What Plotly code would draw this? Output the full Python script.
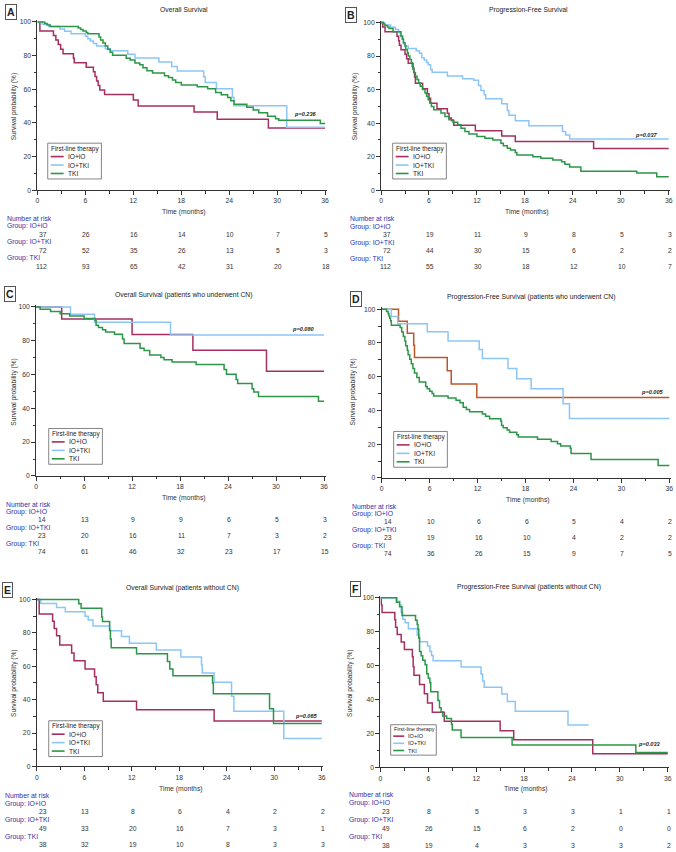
import plotly.graph_objects as go

W, H = 676, 852

tempos = [0, 6, 12, 18, 24, 30, 36]

# A - Overall Survival
a_ioio_t = [0, 0.3, 2.0, 2.3, 2.6, 2.9, 3.2, 4.5, 4.6, 6.1, 7.0, 7.2, 7.4, 7.6, 7.8, 8.4, 12.0, 12.6, 19.6, 22.5, 28.9, 36]
a_ioio_s = [100, 94.6, 91.9, 89.2, 86.5, 83.8, 81.1, 78.4, 75.7, 73.0, 70.3, 67.6, 64.9, 62.2, 59.5, 56.8, 53.6, 50.0, 46.4, 42.2, 37.0, 37.0]
a_iotki_t = [0, 0.6, 1.4, 2.8, 3.4, 4.2, 6.0, 6.3, 6.6, 7.0, 7.4, 8.5, 9.1, 11.3, 12.2, 15.2, 16.8, 17.5, 20.8, 21.0, 22.4, 24.4, 24.6, 31.2, 36]
a_iotki_s = [100, 98.6, 97.2, 95.8, 94.4, 93.0, 91.5, 90.0, 88.6, 87.1, 85.6, 84.1, 82.8, 80.8, 78.5, 76.2, 73.5, 70.8, 67.4, 64.0, 60.2, 55.1, 50.2, 37.4, 37.4]
a_tki_t = [0, 0.9, 1.2, 1.6, 5.1, 5.4, 5.7, 6.1, 6.3, 7.7, 7.9, 8.2, 8.5, 8.8, 9.1, 9.4, 11.1, 11.6, 12.2, 12.8, 13.2, 13.7, 14.4, 15.9, 16.4, 16.9, 17.3, 18.0, 20.0, 21.3, 22.3, 23.0, 23.8, 24.2, 24.6, 26.2, 27.0, 27.7, 28.8, 29.8, 30.2, 35.4, 36]
a_tki_s = [100, 99.1, 98.2, 97.3, 96.4, 95.5, 94.6, 93.7, 92.9, 91.0, 89.2, 87.4, 85.6, 83.8, 82.0, 80.2, 78.4, 77.4, 75.6, 74.6, 72.8, 71.0, 69.6, 68.0, 66.9, 65.5, 64.0, 62.5, 61.5, 60.2, 58.0, 56.7, 55.0, 53.2, 51.0, 49.3, 47.7, 46.0, 44.0, 42.5, 41.5, 39.6, 39.6]
a_ioio_n = [37, 26, 16, 14, 10, 7, 5]
a_iotki_n = [72, 52, 35, 26, 13, 5, 3]
a_tki_n = [112, 93, 65, 42, 31, 20, 18]

# B - Progression-Free Survival
b_ioio_t = [0, 0.2, 0.5, 2.0, 2.2, 2.3, 2.5, 3.0, 3.2, 3.4, 4.0, 4.1, 4.2, 4.3, 5.2, 5.8, 6.0, 6.2, 7.0, 8.3, 8.5, 8.8, 9.1, 11.8, 15.1, 16.8, 26.6, 36]
b_ioio_s = [100, 97.3, 94.6, 91.9, 89.2, 86.5, 83.8, 81.1, 78.4, 75.7, 73.0, 70.3, 67.6, 63.8, 60.5, 57.6, 54.8, 51.9, 48.6, 45.9, 43.0, 41.6, 38.7, 35.5, 32.3, 29.0, 24.9, 24.9]
b_iotki_t = [0, 0.4, 1.2, 1.8, 2.2, 2.4, 2.6, 2.8, 3.0, 3.4, 4.4, 4.8, 5.1, 5.4, 5.7, 5.9, 6.2, 6.4, 8.3, 10.2, 11.6, 12.2, 12.5, 12.9, 13.1, 15.1, 15.8, 16.0, 16.8, 18.5, 22.7, 23.1, 23.6, 36]
b_iotki_s = [100, 98.6, 97.2, 95.8, 94.4, 91.6, 90.2, 87.4, 86.0, 84.6, 83.2, 81.7, 79.0, 77.6, 76.2, 74.8, 72.0, 70.4, 68.2, 66.5, 65.6, 62.5, 59.5, 57.0, 54.5, 51.5, 47.5, 44.7, 41.5, 38.5, 35.0, 33.0, 30.5, 30.5]
b_tki_t = [0, 0.3, 0.5, 0.8, 1.0, 1.5, 2.5, 2.7, 2.8, 3.0, 3.1, 3.3, 3.4, 3.6, 3.8, 3.9, 4.0, 4.1, 4.3, 4.5, 4.7, 4.9, 5.2, 5.5, 5.7, 5.9, 6.1, 6.3, 6.6, 7.5, 8.0, 8.5, 9.0, 9.6, 10.0, 10.5, 11.0, 12.0, 13.0, 14.0, 15.0, 15.3, 15.8, 16.2, 16.8, 17.0, 19.0, 20.0, 21.5, 22.6, 23.0, 23.6, 25.0, 32.0, 34.5, 36]
b_tki_s = [100, 99.1, 98.2, 97.3, 96.4, 94.6, 92.0, 90.0, 88.0, 86.0, 84.0, 82.0, 80.0, 78.0, 76.0, 74.0, 72.0, 70.0, 68.0, 66.0, 64.0, 62.0, 60.0, 58.0, 56.0, 54.0, 52.0, 50.0, 48.0, 46.0, 44.0, 42.0, 40.5, 39.0, 37.0, 35.0, 33.5, 32.0, 31.0, 30.0, 28.0, 26.5, 25.0, 24.0, 22.5, 21.0, 20.0, 19.0, 18.0, 17.0, 15.5, 13.8, 11.3, 10.2, 8.0, 8.0]
b_ioio_n = [37, 19, 11, 9, 8, 5, 3]
b_iotki_n = [72, 44, 30, 15, 6, 2, 2]
b_tki_n = [112, 55, 30, 18, 12, 10, 7]

# C - Overall Survival (CN)
c_ioio_t = [0, 3.2, 12.0, 19.6, 28.8, 36]
c_ioio_s = [100, 92.9, 83.6, 74.3, 61.9, 61.9]
c_iotki_t = [0, 4.3, 7.3, 16.8, 36]
c_iotki_s = [100, 95.7, 90.9, 83.3, 83.3]
c_tki_t = [0, 0.5, 1.8, 3.0, 4.2, 6.0, 7.4, 7.5, 7.8, 8.3, 8.7, 9.8, 10.8, 11.0, 13.0, 13.5, 14.2, 15.6, 16.0, 17.0, 20.0, 23.5, 23.8, 25.0, 25.2, 27.0, 27.2, 27.8, 35.3, 36]
c_tki_s = [100, 98.6, 97.3, 96.0, 94.6, 93.2, 91.9, 89.2, 87.8, 86.5, 85.1, 83.8, 81.0, 78.3, 75.6, 74.2, 71.5, 70.1, 68.7, 67.4, 65.9, 63.0, 60.2, 57.0, 54.7, 51.5, 49.6, 47.0, 44.2, 44.2]
c_ioio_n = [14, 13, 9, 9, 6, 5, 3]
c_iotki_n = [23, 20, 16, 11, 7, 3, 2]
c_tki_n = [74, 61, 46, 32, 23, 17, 15]

# D - Progression-Free Survival (CN)
d_ioio_t = [0, 2.1, 3.2, 4.0, 4.1, 8.2, 8.7, 11.9, 36]
d_ioio_s = [100, 92.9, 85.7, 78.6, 71.4, 63.5, 55.6, 47.6, 47.6]
d_iotki_t = [0, 1.2, 2.0, 5.7, 8.3, 12.2, 12.6, 15.8, 16.9, 18.7, 22.7, 23.5, 36]
d_iotki_s = [100, 95.7, 91.3, 86.6, 81.2, 76.1, 70.8, 64.8, 58.8, 52.8, 44.0, 35.2, 35.2]
d_tki_t = [0, 0.6, 0.8, 0.9, 1.0, 1.1, 1.2, 2.3, 2.5, 2.7, 2.9, 3.0, 3.2, 3.3, 3.5, 3.7, 3.9, 4.1, 4.4, 4.7, 5.5, 5.7, 6.0, 6.3, 6.5, 8.3, 9.3, 9.8, 10.2, 10.6, 11.0, 12.6, 13.0, 13.5, 14.9, 15.0, 15.2, 15.7, 16.0, 16.9, 17.1, 19.5, 21.2, 22.0, 22.4, 23.6, 23.7, 26.2, 34.6, 36]
d_tki_s = [100, 98.6, 97.3, 95.9, 94.6, 93.2, 90.5, 89.2, 86.5, 83.8, 81.1, 78.4, 75.7, 73.0, 70.3, 67.6, 64.9, 62.2, 59.5, 56.8, 54.1, 52.8, 51.4, 50.0, 48.6, 47.3, 46.0, 44.6, 41.9, 40.5, 39.2, 37.8, 36.5, 35.1, 33.7, 31.0, 29.7, 28.4, 27.0, 25.6, 24.2, 22.9, 21.5, 20.2, 18.9, 17.5, 14.4, 10.9, 7.3, 7.3]
d_ioio_n = [14, 10, 6, 6, 5, 4, 2]
d_iotki_n = [23, 19, 16, 10, 4, 2, 2]
d_tki_n = [74, 36, 26, 15, 9, 7, 5]

# E - Overall Survival (sem CN)
e_ioio_t = [0, 0.3, 2.0, 2.2, 2.5, 2.9, 4.4, 4.7, 6.1, 7.3, 7.5, 7.7, 8.4, 12.6, 22.4, 36]
e_ioio_s = [100, 91.3, 87.0, 82.6, 78.3, 72.8, 67.9, 63.3, 58.3, 53.8, 49.0, 44.2, 39.1, 33.9, 27.2, 27.2]
e_iotki_t = [0, 0.5, 2.5, 3.6, 6.1, 6.5, 7.1, 9.2, 10.7, 11.7, 15.1, 18.2, 20.8, 20.9, 22.4, 24.6, 24.9, 31.2, 36]
e_iotki_s = [100, 97.6, 95.2, 92.7, 90.0, 87.7, 84.1, 81.3, 77.8, 73.8, 69.8, 65.5, 60.8, 56.0, 50.4, 42.0, 33.0, 16.7, 16.7]
e_tki_t = [0, 5.3, 5.6, 8.2, 8.3, 9.2, 9.3, 9.4, 12.6, 16.5, 16.8, 17.2, 22.2, 22.3, 29.4, 29.9, 36]
e_tki_s = [100, 97.4, 94.7, 89.5, 86.8, 81.6, 76.3, 71.1, 67.5, 62.9, 58.3, 54.4, 50.0, 43.5, 34.5, 25.8, 25.8]
e_ioio_n = [23, 13, 8, 6, 4, 2, 2]
e_iotki_n = [49, 33, 20, 16, 7, 3, 1]
e_tki_n = [38, 32, 19, 10, 8, 3, 3]

# F - Progression-Free Survival (sem CN)
f_ioio_t = [0, 0.1, 0.2, 1.8, 1.9, 2.1, 2.6, 3.0, 4.0, 4.1, 4.2, 4.9, 5.5, 5.9, 6.5, 8.0, 15.0, 16.7, 26.6, 36]
f_ioio_s = [100, 95.7, 91.3, 87.0, 82.6, 78.3, 73.9, 69.6, 65.2, 59.4, 54.3, 48.9, 43.5, 38.0, 32.6, 27.2, 21.7, 16.3, 8.1, 8.1]
f_iotki_t = [0, 2.1, 2.4, 2.6, 2.8, 3.1, 3.5, 4.6, 4.9, 5.9, 6.2, 6.4, 6.6, 10.1, 12.6, 12.8, 13.0, 15.2, 15.9, 16.9, 23.5, 26.1]
f_iotki_s = [100, 97.9, 95.8, 91.6, 87.4, 85.3, 81.8, 78.0, 74.1, 71.6, 68.5, 66.0, 62.9, 59.2, 55.1, 51.0, 47.3, 43.3, 38.9, 33.2, 25.0, 25.0]
f_tki_t = [0, 2.0, 2.4, 2.7, 4.4, 4.6, 4.7, 4.8, 4.9, 5.1, 5.3, 5.6, 5.8, 6.0, 6.2, 6.3, 7.2, 7.4, 7.6, 7.8, 8.3, 8.9, 9.0, 10.1, 16.5, 32.0, 36]
f_tki_s = [100, 97.4, 94.7, 89.5, 86.8, 84.2, 81.6, 76.3, 68.4, 65.8, 63.2, 60.5, 55.3, 52.6, 50.0, 44.7, 39.5, 35.2, 32.9, 30.3, 28.9, 25.5, 22.1, 17.6, 13.2, 8.8, 8.8]
f_ioio_n = [23, 8, 5, 3, 3, 1, 1]
f_iotki_n = [49, 26, 15, 6, 2, 0, 0]
f_tki_n = [38, 19, 4, 3, 3, 3, 2]

cor_ioio = "rgb(166,46,96)"
cor_iotki = "rgb(140,198,248)"
cor_tki = "rgb(44,150,72)"
cor_ioio_d = "rgb(186,88,40)"
azul = "rgb(48,48,168)"
cinza = "#333333"
fonte = "Liberation Sans, Arial, sans-serif"

paineis = [
    dict(letra="A", titulo="Overall Survival",
         curvas=[(a_ioio_t, a_ioio_s, cor_ioio), (a_iotki_t, a_iotki_s, cor_iotki), (a_tki_t, a_tki_s, cor_tki)],
         risco=[a_ioio_n, a_iotki_n, a_tki_n], nomes=["IO+iO", "IO+TKI", "TKI"], grupos=["IO+iO", "IO+TKI", "TKI"],
         p="p=0.236", p_pos=(33.5, 45.5),
         caixa=(35.7, 325, 20, 189.3), tit=(183, 8), let=(3, 2), ytit=(12, 105), xtit=(183, 211),
         leg=(46, 142, 1.0), tab=(3, 217.3, 8.05)),
    dict(letra="B", titulo="Progression-Free Survival",
         curvas=[(b_ioio_t, b_ioio_s, cor_ioio), (b_iotki_t, b_iotki_s, cor_iotki), (b_tki_t, b_tki_s, cor_tki)],
         risco=[b_ioio_n, b_iotki_n, b_tki_n], nomes=["IO+iO", "IO+TKI", "TKI"], grupos=["IO+iO", "IO+TKI", "TKI"],
         p="p=0.037", p_pos=(33.2, 32.8),
         caixa=(381.3, 670.7, 20.7, 189.3), tit=(530, 8), let=(345, 5), ytit=(355, 105), xtit=(528, 211),
         leg=(393, 142, 1.0), tab=(348, 218, 8.05)),
    dict(letra="C", titulo="Overall Survival (patients who underwent CN)",
         curvas=[(c_ioio_t, c_ioio_s, cor_ioio), (c_iotki_t, c_iotki_s, cor_iotki), (c_tki_t, c_tki_s, cor_tki)],
         risco=[c_ioio_n, c_iotki_n, c_tki_n], nomes=["IO+IO", "IO+TKI", "TKI"], grupos=["IO+IO", "IO+TKI", "TKI"],
         p="p=0.080", p_pos=(33.4, 86.7),
         caixa=(34.3, 324, 306.7, 476.7), tit=(183, 295), let=(2, 286), ytit=(12, 392), xtit=(183, 499),
         leg=(47, 429, 1.0), tab=(2, 505, 8)),
    dict(letra="D", titulo="Progression-Free Survival (patients who underwent CN)",
         curvas=[(d_ioio_t, d_ioio_s, cor_ioio_d), (d_iotki_t, d_iotki_s, cor_iotki), (d_tki_t, d_tki_s, cor_tki)],
         risco=[d_ioio_n, d_iotki_n, d_tki_n], nomes=["IO+iO", "IO+TKI", "TKI"], grupos=["IO+IO", "IO+TKI", "TKI"],
         p="p=0.005", p_pos=(33.9, 50.9),
         caixa=(382, 671.3, 309, 478.7), tit=(532, 297), let=(350, 291), ytit=(353, 392), xtit=(529, 500.7),
         leg=(394, 432, 1.0), tab=(350, 507, 8)),
    dict(letra="E", titulo="Overall Survival (patients without CN)",
         curvas=[(e_ioio_t, e_ioio_s, cor_ioio), (e_iotki_t, e_iotki_s, cor_iotki), (e_tki_t, e_tki_s, cor_tki)],
         risco=[e_ioio_n, e_iotki_n, e_tki_n], nomes=["IO+iO", "IO+TKI", "TKI"], grupos=["IO+IO", "IO+TKI", "TKI"],
         p="p=0.065", p_pos=(34.1, 30.2),
         caixa=(35, 321.7, 601, 769), tit=(182, 589), let=(0, 583), ytit=(12, 685), xtit=(180, 791.7),
         leg=(47, 723, 1.0), tab=(1, 798, 8.3)),
    dict(letra="F", titulo="Progression-Free Survival (patients without CN)",
         curvas=[(f_ioio_t, f_ioio_s, cor_ioio), (f_iotki_t, f_iotki_s, cor_iotki), (f_tki_t, f_tki_s, cor_tki)],
         risco=[f_ioio_n, f_iotki_n, f_tki_n], nomes=["IO+IO", "IO+TKI", "TKI"], grupos=["IO+IO", "IO+TKI", "TKI"],
         p="p=0.033", p_pos=(33.7, 13.7),
         caixa=(380.7, 669.7, 599.3, 770), tit=(530, 588), let=(350, 582), ytit=(350, 685), xtit=(527, 791.7),
         leg=(391, 727, 0.85), tab=(347, 797, 8.5)),
]


def px(v):
    return v / W


def py(v):
    return 1 - v / H


def texto(txt, x, y, tam, cor, xanchor="center", **extra):
    return dict(text=txt, x=px(x), y=py(y), xref="paper", yref="paper", xanchor=xanchor,
                yanchor="middle", showarrow=False, font=dict(size=tam, color=cor), **extra)


fig = go.Figure()
anot = []
formas = []
eixos = {}
cores_leg = [cor_ioio, cor_iotki, cor_tki]

for k, p in enumerate(paineis, start=1):
    sx = "" if k == 1 else str(k)
    xa, ya = "x" + sx, "y" + sx
    x0, x36, y100, y0 = p["caixa"]

    for t, s, cor in p["curvas"]:
        fig.add_trace(go.Scatter(x=t, y=s, mode="lines", xaxis=xa, yaxis=ya,
                                 line=dict(color=cor, width=1.5, shape="hv"),
                                 showlegend=False, hoverinfo="skip"))

    xdir = x0 + 36.2 * (x36 - x0) / 36
    ytopo = y0 - 101 * (y0 - y100) / 100
    eixos["xaxis" + sx] = dict(domain=[px(x0), px(xdir)], anchor=ya, range=[0, 36.2],
                               tick0=0, dtick=6, ticks="outside", ticklen=4, tickwidth=1, tickcolor=cinza,
                               showline=True, linecolor=cinza, linewidth=1, showgrid=False, zeroline=False,
                               tickfont=dict(size=6.8, color=cinza),
                               minor=dict(ticks="outside", ticklen=2.5, tickwidth=1, tickcolor=cinza,
                                          tick0=0, dtick=3, showgrid=False))
    eixos["yaxis" + sx] = dict(domain=[py(y0), py(ytopo)], anchor=xa, range=[0, 101],
                               tick0=0, dtick=20, ticks="outside", ticklen=4, tickwidth=1, tickcolor=cinza,
                               showline=True, linecolor=cinza, linewidth=1, showgrid=False, zeroline=False,
                               tickfont=dict(size=6.8, color=cinza),
                               minor=dict(ticks="outside", ticklen=2.5, tickwidth=1, tickcolor=cinza,
                                          tick0=0, dtick=10, showgrid=False))

    lx, ly = p["let"]
    anot.append(dict(text="<b>" + p["letra"] + "</b>", x=px(lx), y=py(ly),
                     xref="paper", yref="paper", xanchor="left", yanchor="top", showarrow=False,
                     font=dict(size=10.5, color="#222"), bordercolor="#555", borderwidth=1, borderpad=1,
                     bgcolor="white"))
    anot.append(texto(p["titulo"], p["tit"][0], p["tit"][1], 6.8, "#222"))
    anot.append(texto("Survival probability (%)", p["ytit"][0], p["ytit"][1], 6.6, cinza, textangle=-90))
    anot.append(texto("Time (months)", p["xtit"][0], p["xtit"][1], 6.8, cinza))
    anot.append(dict(text="<b><i>" + p["p"] + "</i></b>", x=p["p_pos"][0], y=p["p_pos"][1],
                     xref=xa, yref=ya, xanchor="center", yanchor="middle", showarrow=False,
                     font=dict(size=5.6, color="#222")))

    # legenda
    L, T, e = p["leg"]
    formas.append(dict(type="rect", xref="paper", yref="paper", x0=px(L), x1=px(L + 54 * e),
                       y0=py(T + 36 * e), y1=py(T), line=dict(color="#666", width=0.8), fillcolor="white"))
    anot.append(texto("First-line therapy", L + 1.5 * e, T + 5.5 * e, 6.4 * e, "#222", xanchor="left"))
    for i, (nome, cor) in enumerate(zip(p["nomes"], cores_leg)):
        yy = T + (13.5 + 8.5 * i) * e
        formas.append(dict(type="line", xref="paper", yref="paper", x0=px(L + 3 * e), x1=px(L + 16 * e),
                           y0=py(yy), y1=py(yy), line=dict(color=cor, width=1.6)))
        anot.append(texto(nome, L + 18 * e, yy, 6.6 * e, "#222", xanchor="left"))

    # numero em risco
    esq, topo, passo = p["tab"]
    anot.append(texto("Number at risk", esq, topo, 6.8, azul, xanchor="left"))
    for i, (grupo, nums) in enumerate(zip(p["grupos"], p["risco"])):
        yg = topo + passo * (1 + 2 * i)
        yn = topo + passo * (2 + 2 * i)
        anot.append(texto("Group: " + grupo, esq, yg, 6.8, azul, xanchor="left"))
        for j, (tm, n) in enumerate(zip(tempos, nums)):
            anot.append(dict(text=str(n), x=tm, y=py(yn), xref=xa, yref="paper", showarrow=False,
                             xanchor="right" if j == 0 else "center", yanchor="middle",
                             xshift=12 if j == 0 else 1, font=dict(size=6.8, color=cinza)))

fig.update_layout(**eixos)
fig.update_layout(width=W, height=H, margin=dict(l=0, r=0, t=0, b=0),
                  plot_bgcolor="white", paper_bgcolor="white", showlegend=False,
                  font=dict(family=fonte), annotations=anot, shapes=formas)

fig.write_html("out.html", config={"displayModeBar": False},
               post_script="document.body.style.margin='0';document.body.style.overflow='hidden';")
